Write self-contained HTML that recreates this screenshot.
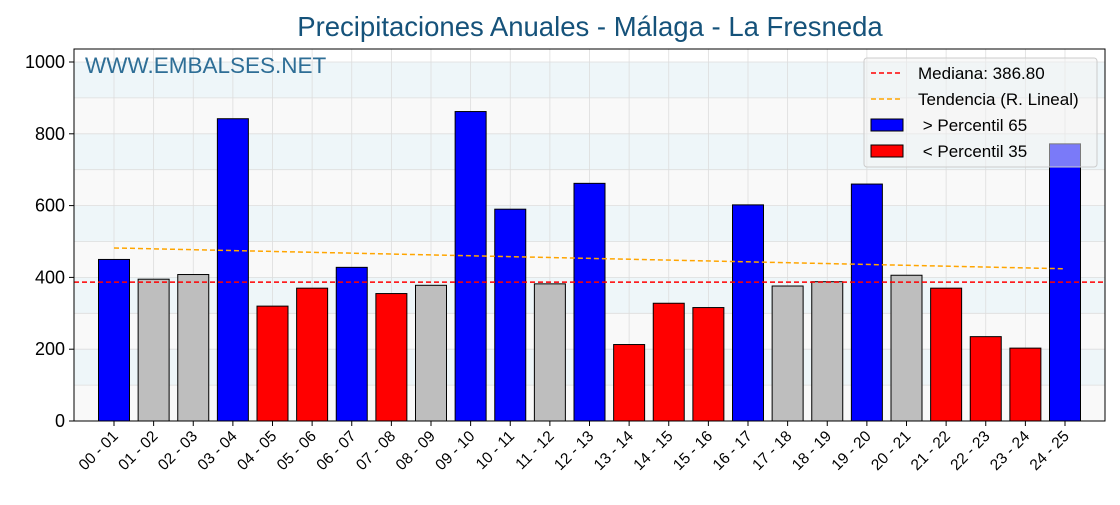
<!DOCTYPE html>
<html><head><meta charset="utf-8"><style>
body{margin:0;background:#fff;font-family:"Liberation Sans",sans-serif}
</style></head><body>
<svg id="chart" width="1120" height="500" xmlns="http://www.w3.org/2000/svg">
<text x="590" y="36" text-anchor="middle" font-size="27.5" style="fill:#15527a">Precipitaciones Anuales - Málaga - La Fresneda</text>
<g id="bands"></g><g id="grid"></g><g id="bars"></g><g id="lines"></g><g id="axes"></g>
<text x="85" y="73" font-size="22.5" fill="#2e6e96">WWW.EMBALSES.NET</text>
<g>
<rect x="864" y="58" width="233" height="109" rx="3" fill="#f3f3f3" fill-opacity="0.5" stroke="#ccc"/>
<line x1="871" y1="73" x2="903" y2="73" stroke="red" stroke-width="1.5" stroke-dasharray="5,3"/>
<text x="918" y="79" font-size="17">Mediana: 386.80</text>
<line x1="871" y1="99" x2="903" y2="99" stroke="orange" stroke-width="1.5" stroke-dasharray="5,3"/>
<text x="918" y="105" font-size="17">Tendencia (R. Lineal)</text>
<rect x="871" y="119" width="32" height="12" fill="blue" stroke="#000"/>
<text x="918" y="131" font-size="17" xml:space="preserve"> &gt; Percentil 65</text>
<rect x="871" y="145" width="32" height="12" fill="red" stroke="#000"/>
<text x="918" y="157" font-size="17" xml:space="preserve"> &lt; Percentil 35</text>
</g>
</svg>
<script>
const categories=["00 - 01","01 - 02","02 - 03","03 - 04","04 - 05","05 - 06","06 - 07","07 - 08","08 - 09","09 - 10","10 - 11","11 - 12","12 - 13","13 - 14","14 - 15","15 - 16","16 - 17","17 - 18","18 - 19","19 - 20","20 - 21","21 - 22","22 - 23","23 - 24","24 - 25"];
const values=[450,395,408,842,320,370,428,355,378,862,590,382,662,213,328,316,602,376,388,660,406,370,235,203,772];
const colors=["blue","#bebebe","#bebebe","blue","red","red","blue","red","#bebebe","blue","blue","#bebebe","blue","red","red","red","blue","#bebebe","#bebebe","blue","#bebebe","red","red","red","blue"];
const yTicks=[0,200,400,600,800,1000];
const median=386.8;
const trendStart=482, trendEnd=424;
const NS="http://www.w3.org/2000/svg";
const L=74,R=1105,T=49,B=421;
const y=v=>B-v*0.359;
const x=i=>114+i*39.625;
function mk(p,tag,a){const e=document.createElementNS(NS,tag);for(const k in a)e.setAttribute(k,a[k]);document.getElementById(p).appendChild(e);return e;}
for(let v=0;v<1000;v+=100){const r=mk('bands','rect',{x:L,y:y(v+100),width:R-L,height:y(v)-y(v+100),fill:(v/100)%2?'#eef6f9':'#f9f9f9'});

}
for(let v=100;v<=1000;v+=100){const g=mk('grid','line',{x1:L,x2:R,y1:y(v),y2:y(v),stroke:'#ddd','stroke-width':0.8});

}
categories.forEach((c,i)=>{const g=mk('grid','line',{x1:x(i),x2:x(i),y1:T,y2:B,stroke:'#ddd','stroke-width':0.8});


const b=mk('bars','rect',{x:x(i)-15.5,y:y(values[i]),width:31,height:B-y(values[i]),fill:colors[i],stroke:'#000','stroke-width':1});


const t=mk('axes','text',{x:x(i)+5,y:B+16,'font-size':15.5,'text-anchor':'end',transform:`rotate(-45 ${x(i)+5} ${B+16})`});
t.textContent=c;


mk('axes','line',{x1:x(i),x2:x(i),y1:B,y2:B+5,stroke:'#000'});});
const m=mk('lines','line',{x1:L,x2:R,y1:y(median),y2:y(median),stroke:'red','stroke-width':1.5,'stroke-dasharray':'5,3'});


const tr=mk('lines','line',{x1:x(0),x2:x(categories.length-1),y1:y(trendStart),y2:y(trendEnd),stroke:'orange','stroke-width':1.5,'stroke-dasharray':'5,3'});


yTicks.forEach(v=>{mk('axes','line',{x1:L-5,x2:L,y1:y(v),y2:y(v),stroke:'#000'});
const t=mk('axes','text',{x:L-9,y:y(v)+6,'font-size':18,'text-anchor':'end'});t.textContent=v;

});
const f=mk('axes','rect',{x:L,y:T,width:R-L,height:B-T,fill:'none',stroke:'#000','stroke-width':1});


</script>
</body></html>
